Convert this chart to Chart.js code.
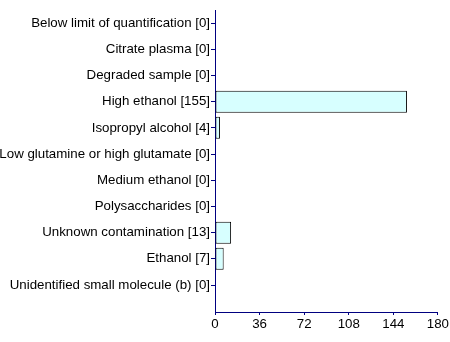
<!DOCTYPE html>
<html>
<head>
<meta charset="utf-8">
<script src="https://cdn.jsdelivr.net/npm/chart.js@4/dist/chart.umd.min.js"></script>
<style>
  html, body { margin: 0; padding: 0; background: #fff; }
  #wrap { width: 450px; height: 342px; }
</style>
</head>
<body>
<div id="wrap"><canvas id="chart"></canvas></div>
<script>
const categories = [
    "Below limit of quantification [0]",
    "Citrate plasma [0]",
    "Degraded sample [0]",
    "High ethanol [155]",
    "Isopropyl alcohol [4]",
    "Low glutamine or high glutamate [0]",
    "Medium ethanol [0]",
    "Polysaccharides [0]",
    "Unknown contamination [13]",
    "Ethanol [7]",
    "Unidentified small molecule (b) [0]"
]
const counts = [0, 0, 0, 155, 4, 0, 0, 0, 13, 7, 0]
const xTicks = [0, 36, 72, 108, 144, 180]

const axisBlue = '#000080'

// bars placed on a linear y scale so the axis can run a bit past the last row
const points = counts.map((v, i) => ({ x: v, y: i }))

Chart.defaults.font.family = '"Liberation Sans", Arial, sans-serif'
Chart.defaults.font.size = 13.3
Chart.defaults.color = '#000'

var config = {
    type: 'bar',
    data: {
        datasets: [{
            data: points,
            backgroundColor: '#d7ffff',
            borderColor: '#000',
            borderWidth: 1,
            borderSkipped: false,
            barPercentage: 0.84,
            categoryPercentage: 1
        }]
    },
    options: {
        indexAxis: 'y',
        animation: false,
        responsive: true,
        maintainAspectRatio: false,
        layout: { padding: { top: 10, right: 12, left: 0, bottom: 0 } },
        plugins: {
            legend: { display: false },
            tooltip: { enabled: false }
        },
        scales: {
            x: {
                type: 'linear',
                min: 0,
                max: 180,
                afterBuildTicks: (scale) => { scale.ticks = xTicks.map(v => ({ value: v })) },
                afterFit: (scale) => { scale.height = 30 },
                ticks: { padding: 1, maxRotation: 0 },
                grid: { drawOnChartArea: false, tickLength: 3, tickColor: axisBlue },
                border: { color: axisBlue, width: 1 }
            },
            y: {
                type: 'linear',
                reverse: true,
                offset: false,
                min: -0.5,
                max: 11.03,
                afterBuildTicks: (scale) => { scale.ticks = categories.map((c, i) => ({ value: i })) },
                afterFit: (scale) => { scale.width = 215 },
                ticks: {
                    padding: 1,
                    autoSkip: false,
                    callback: (v) => categories[v]
                },
                grid: { offset: false, drawOnChartArea: false, tickLength: 4, tickColor: axisBlue },
                border: { color: axisBlue, width: 1 }
            }
        }
    }
}

var ctx = document.getElementById('chart').getContext('2d')
var myChart = new Chart(ctx, config)
</script>
</body>
</html>
